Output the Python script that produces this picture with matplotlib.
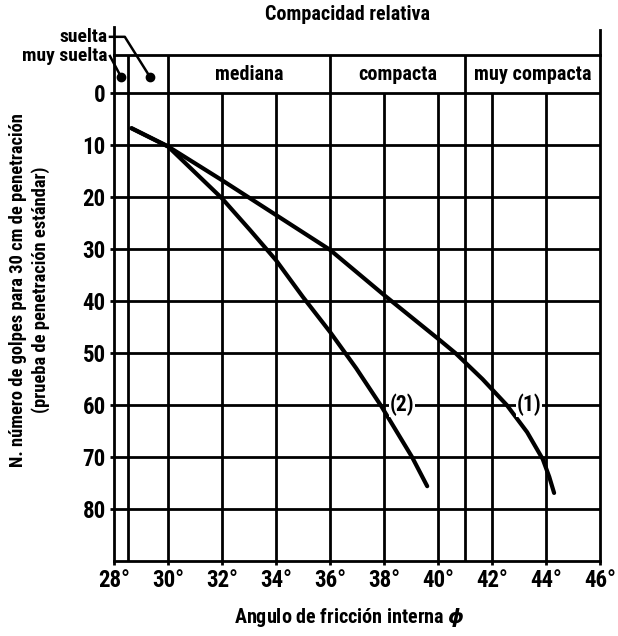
import matplotlib
matplotlib.use("Agg")
import matplotlib.pyplot as plt
from matplotlib import font_manager

# narrow bold face if one is around
entries = font_manager.fontManager.ttflist
names = {f.name for f in entries}
FONT, STRETCH = "Roboto", "normal"
for cand in ["Liberation Sans Narrow", "Roboto Condensed", "Open Sans Condensed"]:
    if cand in names:
        FONT = cand
        break
else:
    if any(f.name == "DejaVu Sans" and f.stretch == "condensed" for f in entries):
        FONT, STRETCH = "DejaVu Sans", "condensed"
plt.rcParams["font.family"] = [FONT, "DejaVu Sans"]
plt.rcParams["font.stretch"] = STRETCH
plt.rcParams["font.weight"] = "bold"
plt.rcParams["mathtext.fontset"] = "dejavusans"

# axis ticks
ANGLE_TICKS = [28, 30, 32, 34, 36, 38, 40, 42, 44, 46]
ANGLE_LABELS = ["28°", "30°", "32°", "34°", "36°", "38°", "40°", "42°", "44°", "46°"]
BLOW_TICKS = [0, 10, 20, 30, 40, 50, 60, 70, 80]

# relative density bands along the angle axis
BAND_EDGES = [30, 36, 41, 46]
BAND_NAMES = ["mediana", "compacta", "muy compacta"]
LOOSE_EDGE = 28.5
LOOSE_NAMES = ["suelta", "muy suelta"]
LOOSE_DOTS = [29.33, 28.26]

# curve (1)
CURVE1_ANGLE = [28.65, 30.0, 32.0, 34.0, 36.0, 38.0, 40.07, 40.65, 41.65, 42.55,
                43.3, 43.88, 44.12, 44.3]
CURVE1_N = [6.7, 10.2, 16.7, 23.4, 30.1, 38.8, 47.5, 50.0, 55.0, 60.0,
            65.2, 70.4, 73.8, 76.9]
# curve (2)
CURVE2_ANGLE = [28.65, 30.0, 32.0, 33.04, 34.0, 35.0, 36.0, 36.97, 37.9, 39.04, 39.6]
CURVE2_N = [6.7, 10.2, 20.2, 26.3, 32.1, 39.2, 45.9, 52.9, 60.2, 70.0, 75.6]

BAND_TOP = -7.4
LW = 2.0

fig = plt.figure(figsize=(6.18, 6.36), dpi=100)
ax = fig.add_axes([114 / 618, 75 / 636, 486 / 618, 506 / 636])
ax.set_xlim(28, 46)
ax.set_ylim(90, BAND_TOP)

for s in ax.spines.values():
    s.set_linewidth(LW)

# grid
ax.hlines(BLOW_TICKS, 28, 46, color="black", lw=LW, zorder=1)
ax.vlines(ANGLE_TICKS[1:-1], 0, 90, color="black", lw=LW, zorder=1)
ax.vlines([LOOSE_EDGE, 41], 0, 90, color="black", lw=LW, zorder=1)
ax.vlines([LOOSE_EDGE] + BAND_EDGES[:-1], BAND_TOP, 0, color="black", lw=LW, zorder=1)

# spines carried up past the band
ax.plot([28, 28], [BAND_TOP, -12.7], color="black", lw=LW, clip_on=False)
ax.plot([46, 46], [BAND_TOP, -12.3], color="black", lw=LW, clip_on=False)

# band names
for lo, hi, name in zip(BAND_EDGES[:-1], BAND_EDGES[1:], BAND_NAMES):
    ax.text((lo + hi) / 2, BAND_TOP / 2, name, ha="center", va="center",
            fontsize=14.5, fontweight="bold")

# loose categories with leader lines
ax.plot([27.85, 28.4, LOOSE_DOTS[0]], [-10.9, -10.9, -3.2], color="black",
        lw=1.8, clip_on=False)
ax.plot([LOOSE_DOTS[0]], [-3.2], "o", color="black", ms=6, clip_on=False)
ax.plot([27.85, LOOSE_DOTS[1]], [-7.2, -3.2], color="black", lw=1.8, clip_on=False)
ax.plot([LOOSE_DOTS[1]], [-3.2], "o", color="black", ms=6, clip_on=False)
ax.text(27.75, -10.9, LOOSE_NAMES[0], ha="right", va="center", fontsize=14,
        fontweight="bold", clip_on=False)
ax.text(27.75, -7.3, LOOSE_NAMES[1], ha="right", va="center", fontsize=14,
        fontweight="bold", clip_on=False)

# curves
for xs, ys in [(CURVE1_ANGLE, CURVE1_N), (CURVE2_ANGLE, CURVE2_N)]:
    ax.plot(xs, ys, color="black", lw=3.0, solid_capstyle="round",
            solid_joinstyle="round", zorder=3)
box = dict(facecolor="white", edgecolor="none", pad=0.5)
ax.text(38.2, 60, "(2)", ha="left", va="center", fontsize=15.5, fontweight="bold",
        bbox=box, zorder=4)
ax.text(42.9, 60, "(1)", ha="left", va="center", fontsize=15.5, fontweight="bold",
        bbox=box, zorder=4)

# ticks
ax.set_xticks(ANGLE_TICKS)
ax.set_xticklabels(ANGLE_LABELS, fontsize=16.5, fontweight="bold")
ax.set_yticks(BLOW_TICKS)
ax.set_yticklabels([str(v) for v in BLOW_TICKS], fontsize=16.5, fontweight="bold")
ax.tick_params(length=3, width=LW, pad=3)

# labels
fig.text(347 / 618, 1 - 15 / 636, "Compacidad relativa", ha="center", va="center",
         fontsize=14.5, fontweight="bold")
fig.text(350 / 618, 1 - 618 / 636, r"Angulo de fricción interna $\phi$", ha="center",
         va="center", fontsize=14.5, fontweight="bold")
fig.text(18 / 618, 1 - 290 / 636, "N. número de golpes para 30 cm de penetración",
         rotation=90, ha="center", va="center", fontsize=13.3, fontweight="bold")
fig.text(41 / 618, 1 - 290 / 636, "(prueba de penetración estándar)",
         rotation=90, ha="center", va="center", fontsize=13.3, fontweight="bold")

fig.savefig("out.png", dpi=100, facecolor="white")
